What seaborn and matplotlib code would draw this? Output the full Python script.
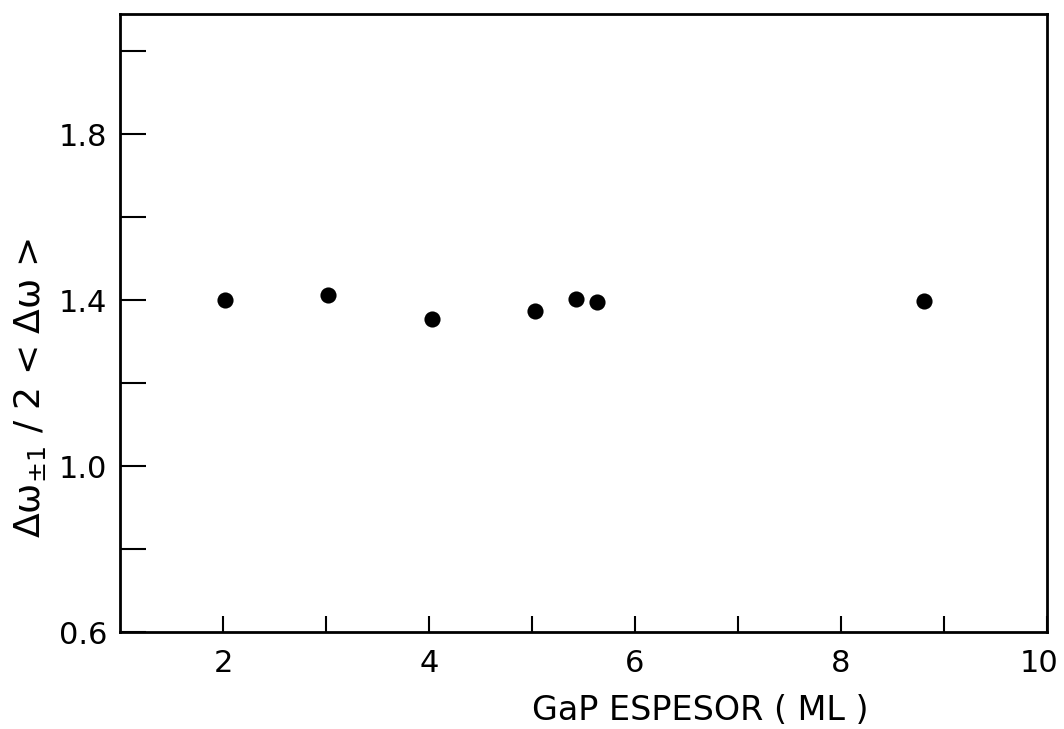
import matplotlib
matplotlib.use("Agg")
import matplotlib.pyplot as plt
from matplotlib import font_manager
from matplotlib.transforms import ScaledTranslation
import seaborn as sns
import pandas as pd

# ---- data ----
espesor = [2.02, 3.02, 4.03, 5.03, 5.43, 5.63, 8.81]
ratio = [1.400, 1.412, 1.355, 1.374, 1.402, 1.395, 1.397]

xticks = [2, 3, 4, 5, 6, 7, 8, 9, 10]
xticklabels = ["2", "", "4", "", "6", "", "8", "", "10"]
yticks = [0.6, 0.8, 1.0, 1.2, 1.4, 1.6, 1.8, 2.0]
yticklabels = ["0.6", "", "1.0", "", "1.4", "", "1.8", ""]

xlabel = "GaP ESPESOR ( ML )"
ylabel = "Δω$_{\\pm1}$ / 2 < Δω >"

df = pd.DataFrame({"x": espesor, "y": ratio})

sns.set_style("ticks")
names = {f.name for f in font_manager.fontManager.ttflist}
fam = ["DejaVu Sans Condensed", "DejaVu Sans"] if "DejaVu Sans Condensed" in names else ["DejaVu Sans"]
plt.rcParams["font.family"] = fam
plt.rcParams["mathtext.fontset"] = "dejavusans"
plt.rcParams["text.color"] = "black"
plt.rcParams["axes.labelcolor"] = "black"

fig = plt.figure(figsize=(10.64, 7.29), dpi=100)
ax = fig.add_axes([0.1128, 0.133, 0.8712, 0.848])

sns.scatterplot(data=df, x="x", y="y", ax=ax, color="black", s=135,
                edgecolor="black", linewidth=0, zorder=3)

ax.set_xlim(1.0, 10.0)
ax.set_ylim(0.61, 2.09)

ax.set_xticks(xticks)
ax.set_xticklabels(xticklabels)
ax.set_yticks(yticks)
ax.set_yticklabels(yticklabels)

for sp in ax.spines.values():
    sp.set_visible(True)
    sp.set_linewidth(2.0)
    sp.set_color("black")

ax.tick_params(axis="x", direction="in", length=11.5, width=1.5,
               labelsize=22, pad=12, colors="black")
ax.tick_params(axis="y", direction="in", length=19, width=1.5,
               labelsize=22, pad=9, colors="black")

# nudge the last x tick label ("10") slightly left so it stays inside the figure
last = ax.xaxis.get_major_ticks()[-1].label1
last.set_transform(last.get_transform() + ScaledTranslation(-0.08, 0, fig.dpi_scale_trans))

ax.set_xlabel(xlabel, fontsize=24, color="black")
ax.set_ylabel(ylabel, fontsize=26, color="black")
ax.xaxis.set_label_coords((700 - 120) / 927, -(710 - 632) / 618)
ax.xaxis.label.set_va("center")
ax.yaxis.set_label_coords((30 - 120) / 927, (632 - 388) / 618)
ax.yaxis.label.set_va("center")

fig.savefig("out.png", dpi=100, facecolor="white")
